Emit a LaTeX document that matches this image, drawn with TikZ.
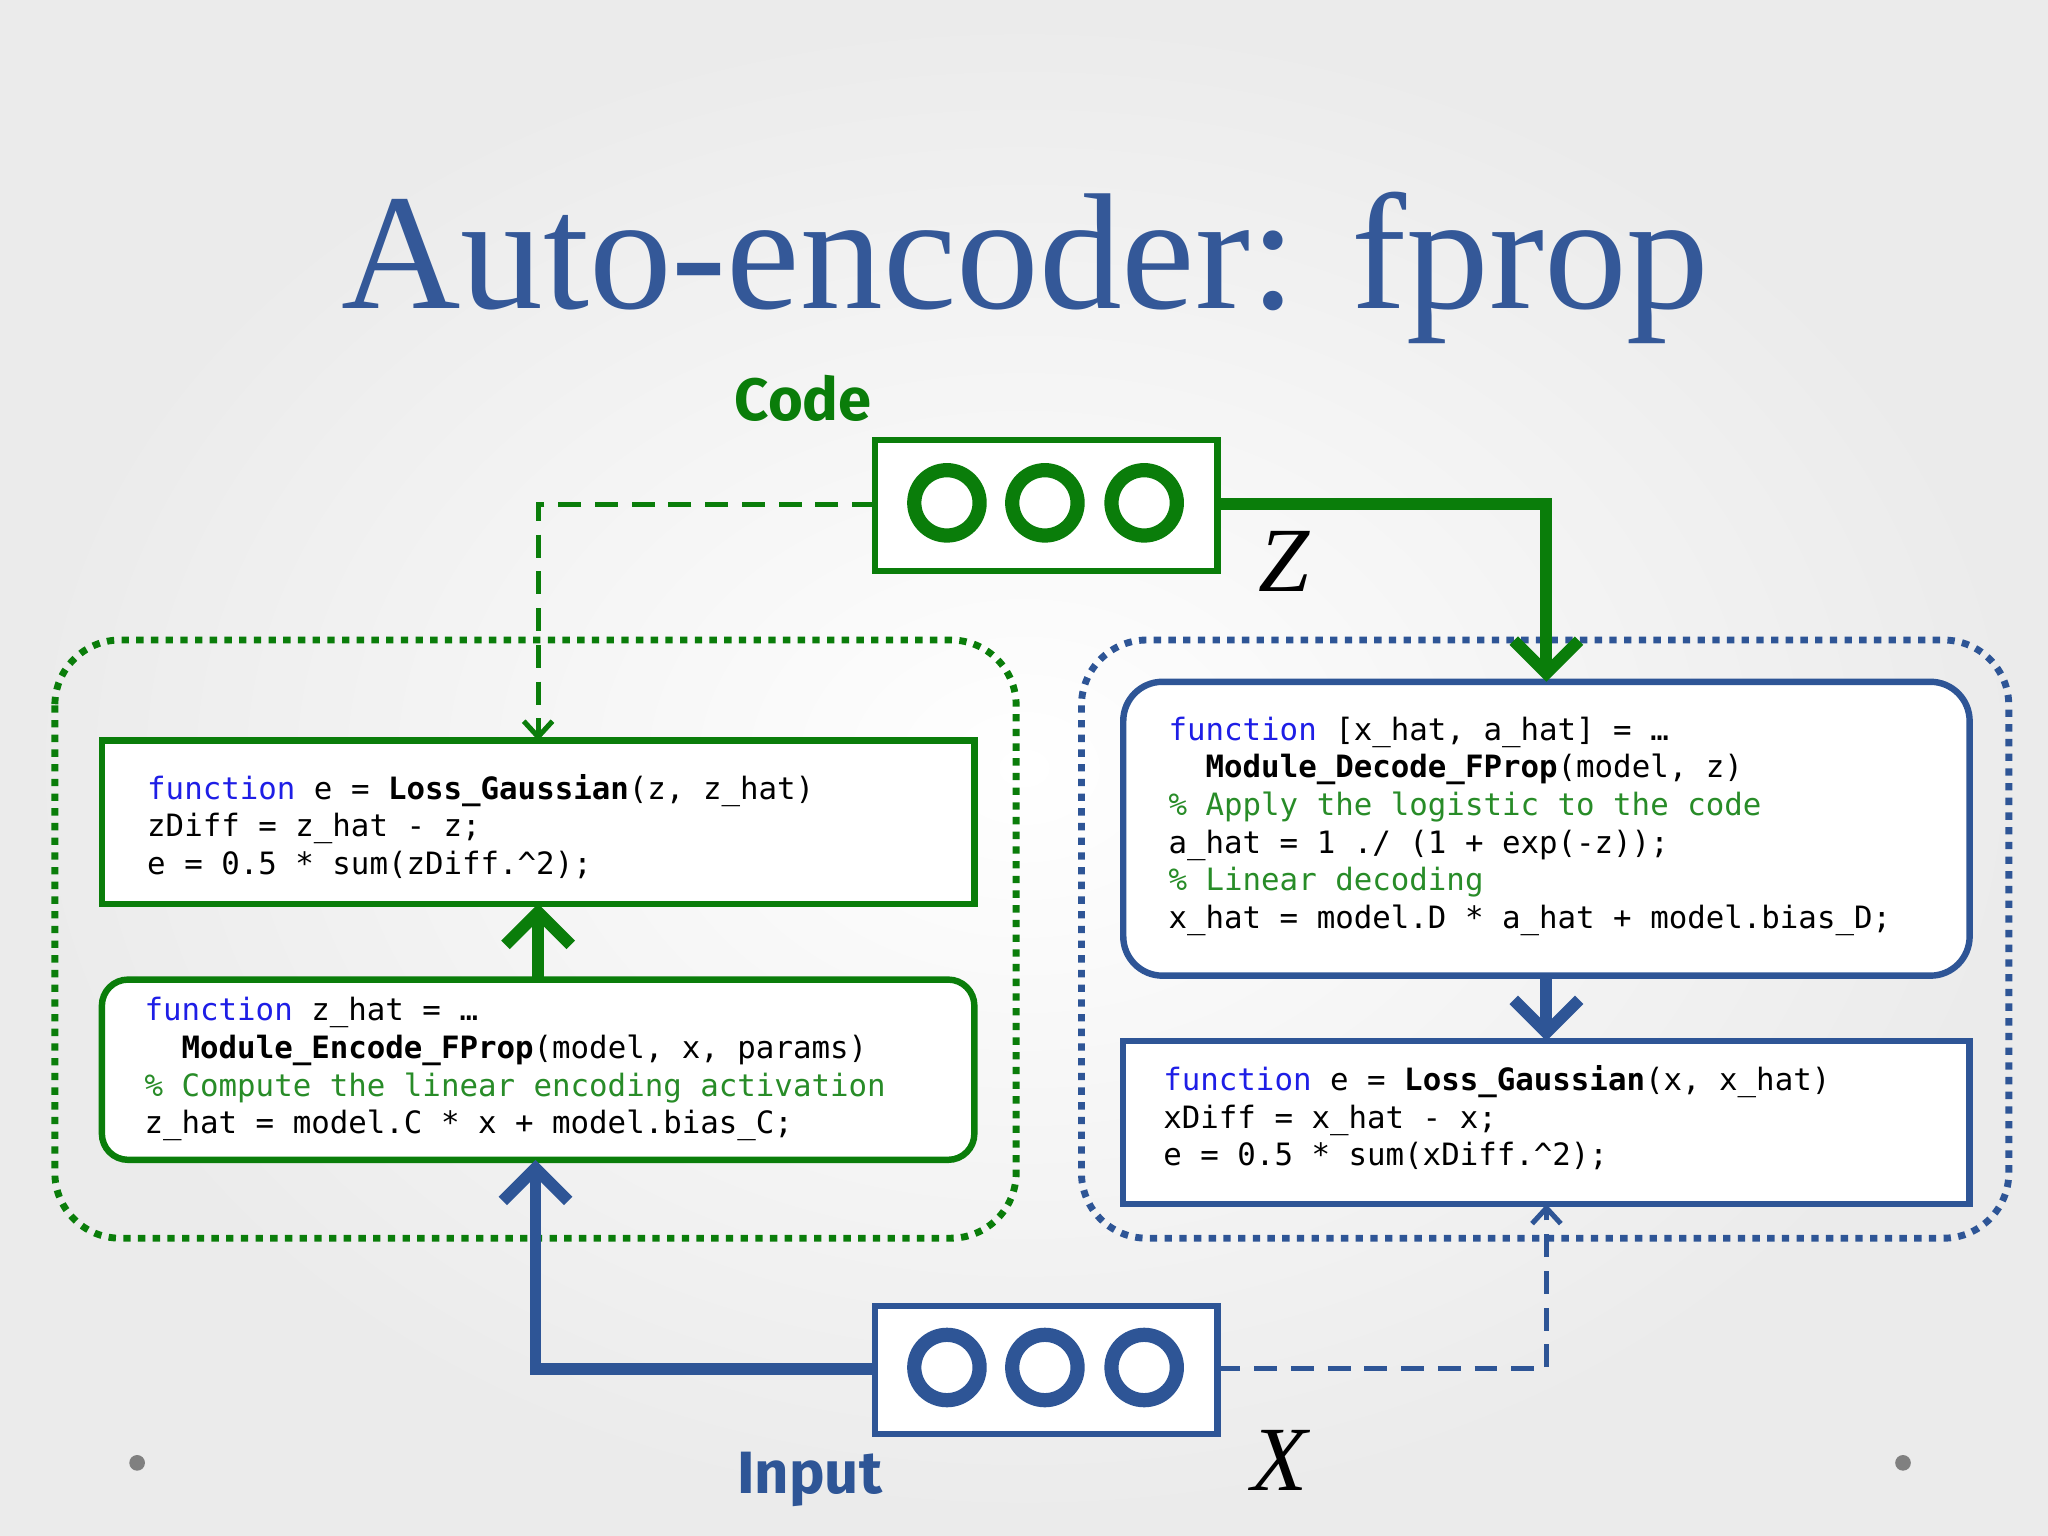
\documentclass[tikz,border=0pt]{standalone}
\usepackage{fontspec}
\setmainfont{Liberation Serif}
\setsansfont{Fira Sans}
\setmonofont{DejaVu Sans Mono}
\usetikzlibrary{arrows.meta}
\definecolor{gr}{RGB}{10,125,10}
\definecolor{bl}{RGB}{46,85,150}
\definecolor{tb}{RGB}{52,88,152}
\definecolor{kw}{RGB}{30,30,230}
\definecolor{cm}{RGB}{40,140,40}
\newcommand\kwd[1]{\textcolor{kw}{#1}}
\newcommand\cmt[1]{\textcolor{cm}{#1}}
\begin{document}
\begin{tikzpicture}[x=0.01cm,y=-0.01cm,
  box/.style={line width=1.4pt},
  code/.style={anchor=north west,inner sep=0,align=left,font=\fontsize{6.7}{8.2}\ttfamily},
  circ/.style={line width=3.1pt,circle,minimum size=0.5cm,inner sep=0},
  thick arr/.style={line width=2.6pt,-{Straight Barb[length=0.25cm,width=0.5cm,line width=2.6pt]}},
  dash arr/.style={line width=1.1pt,dashed,dash pattern=on 5pt off 3pt,-{Straight Barb[length=0.12cm,width=0.22cm]}},
  dotbox/.style={line width=1.5pt,dash pattern=on 1.6pt off 1.6pt,rounded corners=0.5cm}]
\shade[inner color=white,outer color=black!8] (0,0) rectangle (1568,1176);
\useasboundingbox (0,0) rectangle (1568,1176);
\fill[gray] (105,1120) circle (6) (1457,1120) circle (6);
\node[text=tb,font=\fontsize{36}{40}\selectfont] (title) at (785,205) {Auto-encoder: fprop};
\node[text=gr,font=\fontsize{13}{15}\sffamily\bfseries] (codelbl) at (615,305) {Code};
\node[text=bl,font=\fontsize{13}{15}\sffamily\bfseries] (inlbl) at (620,1133) {Input};
\node[font=\fontsize{20}{22}\selectfont\itshape] (Z) at (983,430) {Z};
\node[font=\fontsize{20}{22}\selectfont\itshape] (X) at (980,1118) {X};
% dotted containers
\draw[dotbox,gr] (42,490) rectangle (778,948);
\draw[dotbox,bl] (828,490) rectangle (1538,948);
% code / input boxes
\draw[box,gr,fill=white] (670,337) rectangle (932,437);
\coordinate (codeL) at (670,386); \coordinate (codeR) at (932,386);
\foreach \x in {725,800,876} \node[circ,draw=gr] at (\x,385) {};
\draw[box,bl,fill=white] (670,1000) rectangle (932,1098);
\coordinate (inL) at (670,1048); \coordinate (inR) at (932,1048);
\foreach \x in {725,800,876} \node[circ,draw=bl] at (\x,1047) {};
% left boxes
\draw[box,gr,fill=white] (78,567) rectangle (746,692);
\coordinate (lg1top) at (412,567); \coordinate (lg1bot) at (412,692);
\node[code] (lg) at (112,592) {\kwd{function} e = \textbf{Loss\_Gaussian}(z, z\_hat)\\zDiff = z\_hat - z;\\e = 0.5 * sum(zDiff.\textasciicircum2);};
\draw[box,gr,fill=white,rounded corners=0.2cm] (78,750) rectangle (746,888);
\coordinate (enctop) at (412,750); \coordinate (encbot) at (410,888);
\node[code] (enc) at (110,763) {\kwd{function} z\_hat = …\\\ \ \textbf{Module\_Encode\_FProp}(model, x, params)\\\cmt{\% Compute the linear encoding activation}\\z\_hat = model.C * x + model.bias\_C;};
% right boxes
\draw[box,bl,fill=white,rounded corners=0.3cm] (860,522) rectangle (1508,747);
\coordinate (dectop) at (1184,522); \coordinate (decbot) at (1184,747);
\node[code] (dec) at (894,548) {\kwd{function} [x\_hat, a\_hat] = …\\\ \ \textbf{Module\_Decode\_FProp}(model, z)\\\cmt{\% Apply the logistic to the code}\\a\_hat = 1 ./ (1 + exp(-z));\\\cmt{\% Linear decoding}\\x\_hat = model.D * a\_hat + model.bias\_D;};
\draw[box,bl,fill=white] (860,797) rectangle (1508,922);
\coordinate (rg1top) at (1184,797); \coordinate (rg1bot) at (1184,922);
\node[code] (rg) at (890,815) {\kwd{function} e = \textbf{Loss\_Gaussian}(x, x\_hat)\\xDiff = x\_hat - x;\\e = 0.5 * sum(xDiff.\textasciicircum2);};
% connectors
\draw[dash arr,gr] (codeL) -- (412,386) -- (lg1top);
\draw[thick arr,gr] (codeR) -- (1184,386) -- (dectop);
\draw[thick arr,gr] (enctop) -- (lg1bot);
\draw[thick arr,bl] (decbot) -- (rg1top);
\draw[thick arr,bl] (inL) -- (410,1048) -- (encbot);
\draw[dash arr,bl] (inR) -- (1184,1048) -- (rg1bot);
\end{tikzpicture}
\end{document}
